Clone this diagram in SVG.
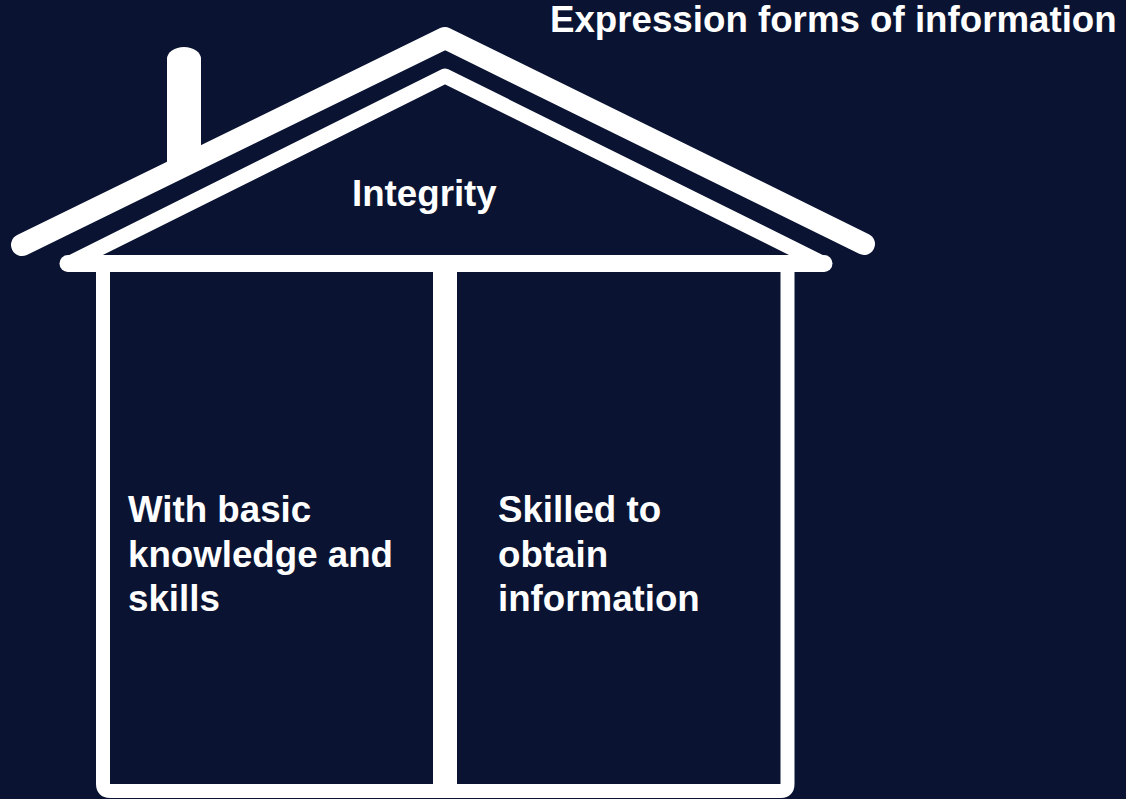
<svg xmlns="http://www.w3.org/2000/svg" width="1126" height="799" viewBox="0 0 1126 799">
<style>
.ln{fill:none;stroke:#ffffff;stroke-linejoin:round}
.rc{stroke-linecap:round}
.bc{stroke-linecap:butt}
.t{font-family:"Liberation Sans",Arial,sans-serif;font-weight:bold;font-size:36.7px;fill:#ffffff}
</style>
<rect width="1126" height="799" fill="#0a1432"/>
<g id="house">
<path d="M167,170 V59 A17,12 0 0 1 201,59 V170 Z" fill="#ffffff"/>
<polyline class="ln rc" points="22,245 445,38 864,244" stroke-width="22"/>
<polyline class="ln rc" points="68,264 445,76 824,264" stroke-width="15"/>
<line class="ln rc" x1="68" y1="263.5" x2="824" y2="263.5" stroke-width="17"/>
<path class="ln bc" d="M103,263 V784 Q103,791 110,791 H781 Q787.5,791 787.5,784 V263" stroke-width="14"/>
<line class="ln bc" x1="445" y1="263" x2="445" y2="790" stroke-width="24"/>
</g>
<g id="title"><text class="t" x="550" y="32">Expression forms of information</text></g>
<g id="roof-label"><text class="t" x="352" y="206">Integrity</text></g>
<g id="left-room"><text class="t" x="128" y="522">With basic</text><text class="t" x="128" y="567">knowledge and</text><text class="t" x="128" y="611">skills</text></g>
<g id="right-room"><text class="t" x="498" y="522">Skilled to</text><text class="t" x="498" y="567">obtain</text><text class="t" x="498" y="611">information</text></g>
<g id="connectors"></g>
</svg>
